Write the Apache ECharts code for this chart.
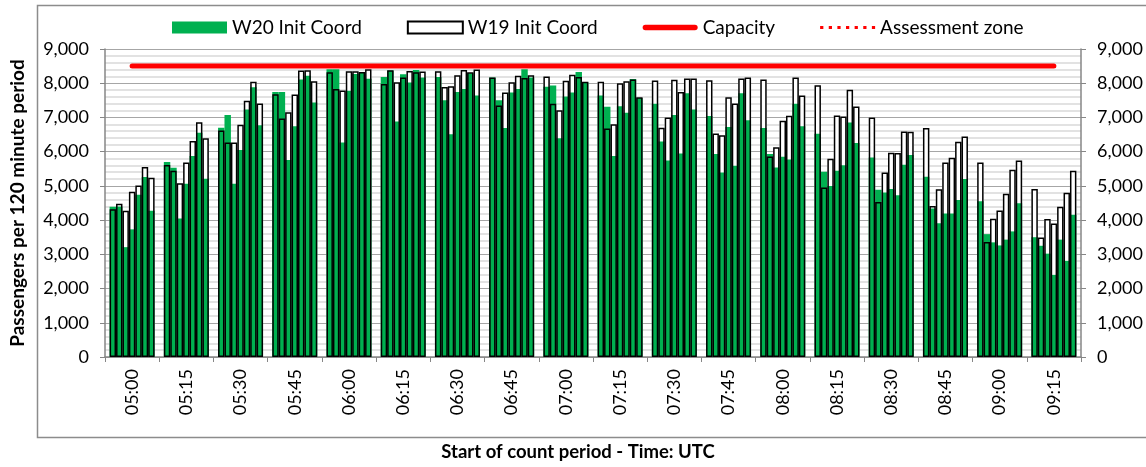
<!DOCTYPE html>
<html>
<head>
<meta charset="utf-8">
<script src="https://cdn.jsdelivr.net/npm/echarts@6/dist/echarts.min.js"></script>
<style>
  html, body { margin: 0; padding: 0; background: #fff; }
  #chart { width: 1146px; height: 467px; }
</style>
</head>
<body>
<div id="chart"></div>
<script>
// start of count period, one label per 15 minute slot
var times = ['05:00', '05:15', '05:30', '05:45', '06:00', '06:15', '06:30', '06:45', '07:00',
             '07:15', '07:30', '07:45', '08:00', '08:15', '08:30', '08:45', '09:00', '09:15'];
var barsPerSlot = 7;

// W20 Init Coord, 7 values per slot
var w20 = [
  4390, 4400, 3210, 3730, 4740, 5260, 4270,
  5700, 5530, 4050, 5060, 5870, 6550, 5210,
  6700, 7070, 5060, 6050, 7230, 7880, 6770,
  7740, 7740, 5760, 6740, 8110, 8220, 7440,
  8410, 8410, 6270, 7780, 8270, 8300, 8130,
  8180, 8370, 6880, 8260, 8020, 8390, 8170,
  8180, 7500, 6510, 7740, 7830, 8290, 7640,
  8170, 7500, 6690, 7730, 7830, 8410, 8170,
  7900, 7930, 6390, 7610, 7730, 8330, 8020,
  7640, 7310, 5870, 7330, 7140, 8120, 7570,
  7400, 6300, 5740, 7070, 5950, 7710, 7230,
  7040, 5930, 5390, 6720, 5590, 7710, 6920,
  6690, 5930, 5540, 5850, 5770, 7400, 6740,
  6520, 5410, 5000, 5440, 5600, 6850, 6250,
  5830, 4890, 4810, 4910, 4730, 5620, 5900,
  5270, 4340, 3910, 4190, 4190, 4590, 5200,
  4550, 3590, 3350, 3260, 3430, 3670, 4490,
  3500, 3250, 3020, 2400, 3430, 2810, 4160
];

// W19 Init Coord, 7 values per slot
var w19 = [
  4320, 4480, 4270, 4830, 5010, 5550, 5240,
  5610, 5440, 5080, 5680, 6310, 6860, 6390,
  6620, 6270, 6270, 6790, 7490, 8040, 7410,
  7680, 6970, 7150, 7670, 8370, 8380, 8060,
  8320, 7830, 7790, 8350, 8350, 8330, 8410,
  7980, 8380, 8030, 8170, 8360, 8320, 8340,
  8350, 7890, 7910, 8230, 8390, 8320, 8400,
  8170, 7350, 7730, 8030, 8220, 8150, 8230,
  8200, 7400, 7210, 8070, 8250, 8180, 8040,
  8040, 6680, 6800, 8000, 8060, 8110, 7590,
  8080, 6700, 7000, 8100, 7740, 8140, 8140,
  8090, 6530, 6480, 7590, 7410, 8140, 8170,
  8110, 5860, 6130, 6900, 7050, 8170, 7640,
  7940, 4950, 5790, 7060, 7030, 7810, 7320,
  7000, 4530, 5390, 5970, 5960, 6590, 6580,
  6690, 4410, 4900, 5680, 5820, 6290, 6440,
  5680, 3360, 4040, 4280, 4770, 5470, 5740,
  4910, 3490, 4030, 3900, 4390, 4800, 5440
];

var capacity = 8500;
var yMax = 9000;
var yStep = 1000;

var font = 'Lato, "Noto Sans", sans-serif';
var chart = echarts.init(document.getElementById('chart'));

function pick(arr, k) {
    return times.map(function (t, i) { return arr[i * barsPerSlot + k]; });
}

// legend icons for the two red lines
var thickLineIcon = 'path://M2.5,0 L47.5,0 A2.5,2.5 0 0 1 47.5,5 L2.5,5 A2.5,2.5 0 0 1 2.5,0 Z';
var dottedIcon = 'path://M0,0h3v3h-3z M8,0h3v3h-3z M16,0h3v3h-3z M24,0h3v3h-3z M32,0h3v3h-3z M40,0h3v3h-3z M48,0h3v3h-3z';

var series = [];
// white body of the W19 bars, behind the green
for (var k = 0; k < barsPerSlot; k++) {
    series.push({
        name: 'W19 fill', type: 'bar', xAxisIndex: 1, z: 1, silent: true,
        barGap: '0%', barCategoryGap: '17%',
        itemStyle: { color: '#fff' },
        data: pick(w19, k)
    });
}
for (var k = 0; k < barsPerSlot; k++) {
    series.push({
        name: 'W20 Init Coord', type: 'bar', xAxisIndex: 0, z: 2,
        barGap: '0%', barCategoryGap: '17%',
        itemStyle: { color: '#00b050' },
        data: pick(w20, k)
    });
}
// W19 outline on top
for (var k = 0; k < barsPerSlot; k++) {
    series.push({
        name: 'W19 Init Coord', type: 'bar', xAxisIndex: 2, z: 3,
        barGap: '0%', barCategoryGap: '17%',
        itemStyle: { color: 'rgba(255,255,255,0)', borderColor: '#000', borderWidth: 1.5 },
        data: pick(w19, k)
    });
}
series.push({
    name: 'Capacity', type: 'line', xAxisIndex: 0, z: 5,
    symbol: 'none',
    lineStyle: { color: '#ff0000', width: 5, cap: 'round' },
    itemStyle: { color: '#ff0000' },
    data: times.map(function () { return capacity; })
});
series.push({
    name: 'Assessment zone', type: 'line', xAxisIndex: 0, z: 5,
    symbol: 'none',
    lineStyle: { color: '#ff0000', width: 3, type: 'dotted' },
    itemStyle: { color: '#ff0000' },
    data: []
});

var hiddenX = { type: 'category', data: times, show: false, position: 'bottom' };

var option = {
    animation: false,
    textStyle: { fontFamily: font },
    graphic: [{
        type: 'rect', left: 35, top: 3, z: -1,
        shape: { width: 1200, height: 432 },
        style: { fill: 'none', stroke: '#8c8c8c', lineWidth: 1.5 }
    }],
    legend: {
        data: [
            { name: 'W20 Init Coord', icon: 'rect' },
            { name: 'W19 Init Coord', icon: 'rect' },
            { name: 'Capacity', icon: thickLineIcon },
            { name: 'Assessment zone', icon: dottedIcon }
        ],
        left: 167, top: 13,
        itemWidth: 55, itemHeight: 12, itemGap: 45,
        textStyle: { fontFamily: font, fontSize: 19, color: '#000' }
    },
    grid: { left: 105, right: 65, top: 49, bottom: 107 },
    xAxis: [{
        type: 'category', data: times, position: 'bottom',
        name: 'Start of count period - Time: UTC',
        nameLocation: 'middle', nameGap: 86,
        nameTextStyle: { fontFamily: font, fontSize: 18.5, fontWeight: 'bold', color: '#000', padding: [0, 30, 0, 0] },
        axisLine: { lineStyle: { color: '#868686', width: 1.5 } },
        axisTick: { show: true, length: 5, lineStyle: { color: '#868686' } },
        axisLabel: { rotate: 90, margin: 12, fontFamily: font, fontSize: 18, color: '#000' }
    }, hiddenX, hiddenX],
    yAxis: [{
        type: 'value', min: 0, max: yMax, interval: yStep, position: 'left',
        name: 'Passengers per 120 minute period',
        nameLocation: 'middle', nameGap: 78,
        nameTextStyle: { fontFamily: font, fontSize: 19, fontWeight: 'bold', color: '#000' },
        axisLine: { show: true, lineStyle: { color: '#868686', width: 1.5 } },
        axisTick: { show: true, length: 5, lineStyle: { color: '#868686' } },
        axisLabel: {
            margin: 16, fontFamily: font, fontSize: 18, color: '#000',
            formatter: function (v) { return v.toLocaleString('en-US'); }
        },
        splitLine: { lineStyle: { color: '#a6a6a6', width: 1 } },
        minorTick: { show: false, splitNumber: 5 },
        minorSplitLine: { show: true, lineStyle: { color: '#d9d9d9', width: 1.5 } }
    }, {
        type: 'value', min: 0, max: yMax, interval: yStep, position: 'right',
        axisLine: { show: true, lineStyle: { color: '#868686', width: 1.5 } },
        axisTick: { show: true, length: 5, lineStyle: { color: '#868686' } },
        axisLabel: {
            margin: 16, fontFamily: font, fontSize: 18, color: '#000',
            formatter: function (v) { return v.toLocaleString('en-US'); }
        },
        splitLine: { show: false }
    }],
    series: series
};
chart.setOption(option);
</script>
</body>
</html>
